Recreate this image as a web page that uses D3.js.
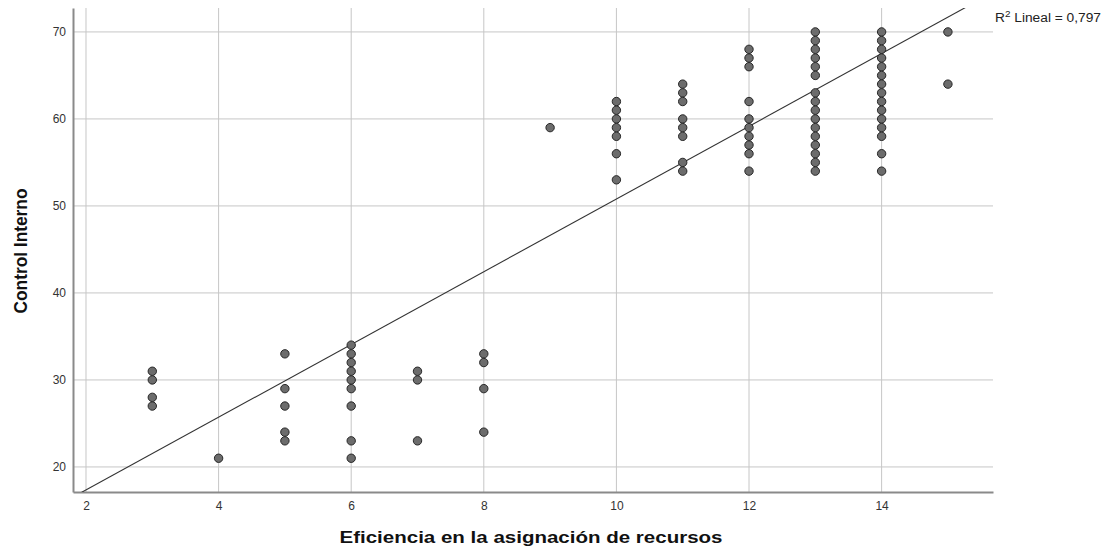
<!DOCTYPE html>
<html>
<head>
<meta charset="utf-8">
<script src="https://cdn.jsdelivr.net/npm/d3@7"></script>
<style>
  body { margin: 0; background: #fff; }
  text { font-family: "Liberation Sans", Arial, sans-serif; }
</style>
</head>
<body>
<div id="chart"></div>
<script>
// x values (Eficiencia) and the Control Interno scores seen in each column
var xCols = [3, 4, 5, 6, 7, 8, 9, 10, 11, 12, 13, 14, 15];
var yCols = [
    [31, 30, 28, 27],
    [21],
    [33, 29, 27, 24, 23],
    [34, 33, 32, 31, 30, 29, 27, 23, 21],
    [31, 30, 23],
    [33, 32, 29, 24],
    [59],
    [62, 61, 60, 59, 58, 56, 53],
    [64, 63, 62, 60, 59, 58, 55, 54],
    [68, 67, 66, 62, 60, 59, 58, 57, 56, 54],
    [70, 69, 68, 67, 66, 65, 63, 62, 61, 60, 59, 58, 57, 56, 55, 54],
    [70, 69, 68, 67, 66, 65, 64, 63, 62, 61, 60, 59, 58, 56, 54],
    [70, 64]
];
var xTicks = [2, 4, 6, 8, 10, 12, 14];
var yTicks = [20, 30, 40, 50, 60, 70];
// linear fit
var fitIntercept = 9.0;
var fitSlope = 4.18;
var r2Text = " Lineal = 0,797";

var W = 1107, H = 548;
// plot box (note: "top" is taken by window.top)
var pLeft = 73, pRight = 993, pTop = 8, pBottom = 492;

var svg = d3.select("#chart").append("svg")
    .attr("width", W)
    .attr("height", H);

var x = d3.scaleLinear().domain([1.804, 15.68]).range([pLeft, pRight]);
var y = d3.scaleLinear().domain([17.12, 72.75]).range([pBottom, pTop]);

// flatten the columns into points
var points = [];
xCols.forEach(function (xv, i) {
    yCols[i].forEach(function (yv) {
        points.push({ x: xv, y: yv });
    });
});

//grid lines
svg.append("g")
    .selectAll("line")
    .data(yTicks).enter()
    .append("line")
    .attr("x1", pLeft).attr("x2", pRight)
    .attr("y1", function (d) { return y(d); })
    .attr("y2", function (d) { return y(d); })
    .attr("stroke", "#c6c6c6")
    .attr("stroke-width", 1);

svg.append("g")
    .selectAll("line")
    .data(xTicks).enter()
    .append("line")
    .attr("y1", pTop).attr("y2", pBottom)
    .attr("x1", function (d) { return x(d); })
    .attr("x2", function (d) { return x(d); })
    .attr("stroke", "#c6c6c6")
    .attr("stroke-width", 1);

// axes (no tick marks, only labels)
var xAxis = svg.append("g")
    .attr("transform", "translate(0," + pBottom + ")")
    .call(d3.axisBottom(x).tickValues(xTicks).tickSize(0).tickPadding(9));
var yAxis = svg.append("g")
    .attr("transform", "translate(" + pLeft + ",0)")
    .call(d3.axisLeft(y).tickValues(yTicks).tickSize(0).tickPadding(7));

[xAxis, yAxis].forEach(function (g) {
    g.select(".domain").attr("stroke", "#8a8a8a").attr("stroke-width", 2);
    g.selectAll("text")
        .attr("fill", "#333")
        .style("font-size", "12px")
        .style("font-family", "'Liberation Sans', Arial, sans-serif");
});

// fit line, clipped to the plot
svg.append("clipPath").attr("id", "plotclip")
    .append("rect")
    .attr("x", pLeft).attr("y", pTop)
    .attr("width", pRight - pLeft).attr("height", pBottom - pTop);

svg.append("line")
    .attr("clip-path", "url(#plotclip)")
    .attr("x1", x(1.804)).attr("y1", y(fitIntercept + fitSlope * 1.804))
    .attr("x2", x(15.68)).attr("y2", y(fitIntercept + fitSlope * 15.68))
    .attr("stroke", "#333")
    .attr("stroke-width", 1.1);

//draw points
svg.append("g")
    .selectAll("circle")
    .data(points).enter()
    .append("circle")
    .attr("cx", function (d) { return x(d.x); })
    .attr("cy", function (d) { return y(d.y); })
    .attr("r", 4.2)
    .attr("fill", "#6c6c6c")
    .attr("stroke", "#262626")
    .attr("stroke-width", 1);

// R2 label
var r2 = svg.append("text")
    .attr("x", 995)
    .attr("y", 22)
    .attr("fill", "#222")
    .attr("textLength", 106)
    .attr("lengthAdjust", "spacingAndGlyphs")
    .style("font-size", "12.5px");
r2.append("tspan").text("R");
r2.append("tspan").attr("dy", -5).style("font-size", "9px").text("2");
r2.append("tspan").attr("dy", 5).text(r2Text);

// axis titles
svg.append("text")
    .attr("x", 531)
    .attr("y", 543)
    .attr("text-anchor", "middle")
    .attr("textLength", 383)
    .attr("lengthAdjust", "spacingAndGlyphs")
    .attr("fill", "#111")
    .style("font-size", "17px")
    .style("font-weight", "bold")
    .text("Eficiencia en la asignación de recursos");

svg.append("text")
    .attr("transform", "translate(27,251) rotate(-90)")
    .attr("text-anchor", "middle")
    .attr("textLength", 125)
    .attr("lengthAdjust", "spacingAndGlyphs")
    .attr("fill", "#111")
    .style("font-size", "18px")
    .style("font-weight", "bold")
    .text("Control Interno");
</script>
</body>
</html>
